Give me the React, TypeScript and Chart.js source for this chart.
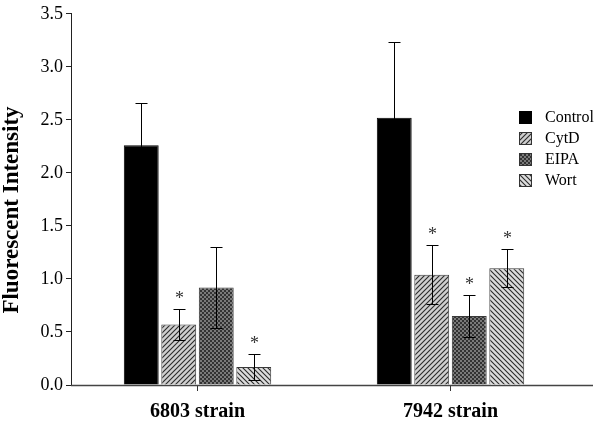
import React, { useEffect, useRef } from "react";
import { Chart, registerables } from "chart.js";

Chart.register(...registerables);

const categories = ["6803 strain", "7942 strain"];
const seriesNames = ["Control", "CytD", "EIPA", "Wort"];
const controlValues = [2.26, 2.52];
const cytdValues = [0.57, 1.04];
const eipaValues = [0.92, 0.65];
const wortValues = [0.17, 1.1];
const controlErrors = [0.4, 0.71];
const cytdErrors = [0.15, 0.28];
const eipaErrors = [0.38, 0.2];
const wortErrors = [0.12, 0.18];
const controlStars = [false, false];
const cytdStars = [true, true];
const eipaStars = [false, true];
const wortStars = [true, true];
const yTicks = [0, 0.5, 1, 1.5, 2, 2.5, 3, 3.5];

const SERIF = '"Liberation Serif", "Times New Roman", serif';

function makePattern(kind: string): CanvasPattern | string {
  const c = document.createElement("canvas");
  const s = kind === "check" ? 4 : 5;
  c.width = s;
  c.height = s;
  const g = c.getContext("2d")!;
  if (kind === "check") {
    g.fillStyle = "#333333";
    g.fillRect(0, 0, s, s);
    g.fillStyle = "#7a7a7a";
    g.fillRect(0, 0, 2, 2);
    g.fillRect(2, 2, 2, 2);
  } else {
    g.fillStyle = kind === "fwd" ? "#cfcfcf" : "#dcdcdc";
    g.fillRect(0, 0, s, s);
    g.strokeStyle = "#2a2a2a";
    g.lineWidth = 1.1;
    g.beginPath();
    if (kind === "fwd") {
      for (let k = -1; k <= 1; k++) {
        g.moveTo(k * s - 1, s + 1);
        g.lineTo(k * s + s + 1, -1);
      }
    } else {
      for (let k = -1; k <= 1; k++) {
        g.moveTo(k * s - 1, -1);
        g.lineTo(k * s + s + 1, s + 1);
      }
    }
    g.stroke();
  }
  const p = g.createPattern(c, "repeat");
  return p || "#999";
}

export default function App() {
  const ref = useRef<HTMLCanvasElement | null>(null);

  useEffect(() => {
    document.body.style.margin = "0";
    const canvas = ref.current!;
    const fills = [
      "#000000",
      makePattern("fwd"),
      makePattern("check"),
      makePattern("back"),
    ];
    const values = [controlValues, cytdValues, eipaValues, wortValues];
    const errors = [controlErrors, cytdErrors, eipaErrors, wortErrors];
    const stars = [controlStars, cytdStars, eipaStars, wortStars];

    const extrasPlugin = {
      id: "extras",
      beforeDatasetsDraw(chart: any) {
        const ctx = chart.ctx;
        const area = chart.chartArea;
        ctx.save();
        ctx.strokeStyle = "#444";
        ctx.lineWidth = 1.5;
        ctx.beginPath();
        ctx.moveTo(area.left, area.bottom + 0.5);
        ctx.lineTo(593, area.bottom + 0.5);
        ctx.stroke();
        ctx.restore();
      },
      afterDatasetsDraw(chart: any) {
        const ctx = chart.ctx;
        const yScale = chart.scales.y;
        ctx.save();
        ctx.strokeStyle = "#000";
        ctx.lineWidth = 1;
        values.forEach((vals, i) => {
          const meta = chart.getDatasetMeta(i);
          meta.data.forEach((el: any, j: number) => {
            const x = Math.round(el.x) + 0.5;
            const v = vals[j];
            const e = errors[i][j];
            const yt = Math.round(yScale.getPixelForValue(v + e)) + 0.5;
            const yb = Math.round(yScale.getPixelForValue(Math.max(0, v - e))) + 0.5;
            ctx.beginPath();
            ctx.moveTo(x, yt);
            ctx.lineTo(x, yb);
            ctx.moveTo(x - 6, yt);
            ctx.lineTo(x + 6, yt);
            if (i !== 0) {
              ctx.moveTo(x - 6, yb);
              ctx.lineTo(x + 6, yb);
            }
            ctx.stroke();
            if (stars[i][j]) {
              ctx.fillStyle = "#333";
              ctx.font = `18px ${SERIF}`;
              ctx.textAlign = "center";
              ctx.textBaseline = "middle";
              ctx.fillText("*", x, yt - 10);
            }
          });
        });
        ctx.restore();
      },
      afterDraw(chart: any) {
        const ctx = chart.ctx;
        ctx.save();
        ctx.fillStyle = "#000";
        ctx.font = `bold 23px ${SERIF}`;
        ctx.textAlign = "center";
        ctx.textBaseline = "middle";
        ctx.translate(12, 210);
        ctx.rotate(-Math.PI / 2);
        ctx.fillText("Fluorescent Intensity", 0, 0);
        ctx.restore();
        // legend
        ctx.save();
        ctx.font = `16px ${SERIF}`;
        ctx.textAlign = "left";
        ctx.textBaseline = "middle";
        seriesNames.forEach((name, i) => {
          const cy = 117 + i * 21;
          ctx.fillStyle = fills[i] as any;
          ctx.fillRect(519, cy - 6, 13, 13);
          if (i !== 0) {
            ctx.strokeStyle = "#333";
            ctx.lineWidth = 1;
            ctx.strokeRect(519.5, cy - 5.5, 12, 12);
          }
          ctx.fillStyle = "#000";
          ctx.fillText(name, 545, cy + 1);
        });
        ctx.restore();
      },
    };

    const chart = new Chart(canvas, {
      type: "bar",
      data: {
        labels: categories,
        datasets: seriesNames.map((name, i) => ({
          label: name,
          data: values[i],
          backgroundColor: fills[i] as any,
          borderColor: i === 0 ? "#000" : "#3a3a3a",
          borderWidth: 1,
          categoryPercentage: 0.593,
          barPercentage: 0.93,
        })),
      },
      options: {
        animation: false,
        responsive: false,
        maintainAspectRatio: false,
        layout: { padding: { top: 10, right: 23, left: 0, bottom: 0 } },
        plugins: {
          legend: { display: false },
          tooltip: { enabled: false },
        },
        scales: {
          x: {
            grid: {
              display: true,
              drawOnChartArea: false,
              drawTicks: true,
              tickLength: 6,
              offset: false,
              color: "#333",
            },
            border: { display: false },
            ticks: {
              color: "#000",
              font: { family: SERIF, size: 20, weight: "bold" },
              padding: 9,
            },
            afterFit(scale: any) {
              scale.height = 39;
            },
          },
          y: {
            min: 0,
            max: 3.5,
            afterBuildTicks(scale: any) {
              scale.ticks = yTicks.map((v) => ({ value: v }));
            },
            grid: {
              display: true,
              drawOnChartArea: false,
              drawTicks: true,
              tickLength: 5,
              color: "#222",
            },
            border: { display: true, color: "#222", width: 1 },
            ticks: {
              color: "#000",
              font: { family: SERIF, size: 18 },
              padding: 3,
              callback: (v: any) => Number(v).toFixed(1),
            },
            afterFit(scale: any) {
              scale.width = 71;
            },
          },
        },
      },
      plugins: [extrasPlugin],
    });
    return () => chart.destroy();
  }, []);

  return (
    <div style={{ width: 600, height: 424, background: "#fff" }}>
      <canvas ref={ref} width={600} height={424} />
    </div>
  );
}
